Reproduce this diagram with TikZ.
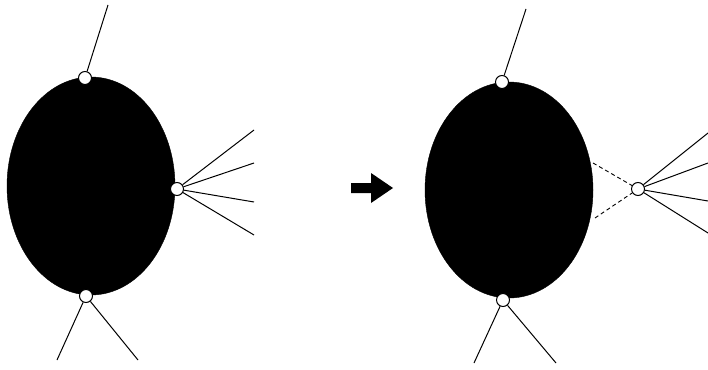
\documentclass[tikz,border=0pt]{standalone}
\usetikzlibrary{shapes.geometric}
\begin{document}
\begin{tikzpicture}[x=1pt,y=-1pt,
  blob/.style={ellipse,fill=black,draw=black,inner sep=0pt},
  port/.style={circle,draw=black,fill=white,line width=1pt,minimum size=13pt,inner sep=0pt},
  wire/.style={line width=1pt},
  dwire/.style={line width=0.9pt,dashed,dash pattern=on 4pt off 3pt},
  bigarrow/.style={fill=black}]
\useasboundingbox (0,0) rectangle (708,369);
% left
\node[blob,minimum width=168pt,minimum height=218pt] (L) at (91,186) {};
\coordinate (lt) at (108,5);
\coordinate (lr1) at (254,130);
\coordinate (lr2) at (254,163);
\coordinate (lr3) at (254,202);
\coordinate (lr4) at (254,235);
\coordinate (lb1) at (57,360);
\coordinate (lb2) at (138,360);
\node[port] (La) at (85,78) {};
\node[port] (Lb) at (177,189) {};
\node[port] (Lc) at (86,296) {};
\draw[wire] (La) -- (lt);
\foreach \e in {lr1,lr2,lr3,lr4} \draw[wire] (Lb) -- (\e);
\draw[wire] (Lc) -- (lb1);
\draw[wire] (Lc) -- (lb2);
% arrow
\fill[bigarrow] (351,183) -- (371,183) -- (371,173) -- (393,188) -- (371,203) -- (371,193) -- (351,193) -- cycle;
% right
\node[blob,minimum width=168pt,minimum height=216pt] (R) at (509,190) {};
\coordinate (rt) at (526,9);
\coordinate (rr1) at (708,133);
\coordinate (rr2) at (708,163);
\coordinate (rr3) at (708,201);
\coordinate (rr4) at (708,233);
\coordinate (rb1) at (474,363);
\coordinate (rb2) at (556,363);
\coordinate (d1) at (593,163);
\coordinate (d2) at (595,218);
\node[port] (Ra) at (502,82) {};
\node[port] (Rb) at (638,189) {};
\node[port] (Rc) at (503,300) {};
\draw[wire] (Ra) -- (rt);
\foreach \e in {rr1,rr2,rr3,rr4} \draw[wire] (Rb) -- (\e);
\draw[wire] (Rc) -- (rb1);
\draw[wire] (Rc) -- (rb2);
\draw[dwire] (d1) -- (Rb);
\draw[dwire] (d2) -- (Rb);
\end{tikzpicture}
\end{document}
